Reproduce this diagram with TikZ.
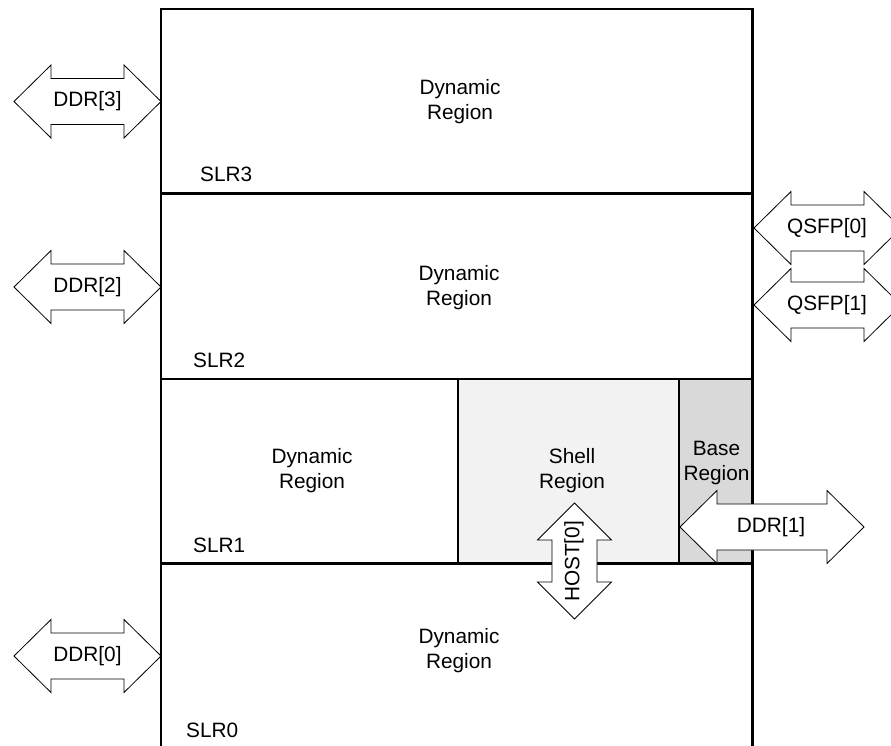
\documentclass[tikz,border=0pt]{standalone}
\usepackage{fontspec}
\setmainfont{Liberation Sans}
\newcommand\dblharrow[3]{\draw[arr] ({#1-#3},#2) -- ({#1-#3+37},{#2-36.5}) -- ({#1-#3+37},{#2-23}) -- ({#1+#3-37},{#2-23}) -- ({#1+#3-37},{#2-36.5}) -- ({#1+#3},#2) -- ({#1+#3-37},{#2+36.5}) -- ({#1+#3-37},{#2+23}) -- ({#1-#3+37},{#2+23}) -- ({#1-#3+37},{#2+36.5}) -- cycle;}
\newcommand\dblvarrow[3]{\draw[arr] (#1,{#2-#3}) -- ({#1+37},{#2-#3+37}) -- ({#1+22.5},{#2-#3+37}) -- ({#1+22.5},{#2+#3-37}) -- ({#1+37},{#2+#3-37}) -- (#1,{#2+#3}) -- ({#1-37},{#2+#3-37}) -- ({#1-22.5},{#2+#3-37}) -- ({#1-22.5},{#2-#3+37}) -- ({#1-37},{#2-#3+37}) -- cycle;}
\begin{document}
\begin{tikzpicture}[x=1pt,y=-1pt,
  box/.style={line width=2.6pt},
  arr/.style={draw=black, fill=white, line width=0.8pt, line join=miter},
  lbl/.style={font=\fontsize{20.8}{25}\selectfont, align=center, inner sep=0pt},
]
\useasboundingbox (0,0) rectangle (891,746);
\clip (0,0) rectangle (891,746);
% fills
\fill[black!5] (458,379) rectangle (679,563.5);
\fill[black!15] (679,379) rectangle (752.5,563.5);
% frame
\draw[box] (161,760) -- (161,9) -- (752.5,9) -- (752.5,760);
\draw[box] (161,193.5) -- (752.5,193.5);
\draw[box] (161,379) -- (752.5,379);
\draw[box] (161,563.5) -- (752.5,563.5);
\draw[box] (458,379) -- (458,563.5);
\draw[box] (679,379) -- (679,563.5);
% region labels
\node[lbl] (dyn3) at (460,102) {Dynamic\\Region};
\node[lbl] (dyn2) at (459,288) {Dynamic\\Region};
\node[lbl] (dyn1) at (312,471) {Dynamic\\Region};
\node[lbl] (dyn0) at (459,651) {Dynamic\\Region};
\node[lbl] (shell) at (572,471) {Shell\\Region};
\node[lbl] (base) at (716.5,463) {Base\\Region};
\node[lbl, anchor=west] (slr3) at (200,174) {SLR3};
\node[lbl, anchor=west] (slr2) at (193,360) {SLR2};
\node[lbl, anchor=west] (slr1) at (193,545) {SLR1};
\node[lbl, anchor=west] (slr0) at (186,730) {SLR0};
% arrows
\dblharrow{87.5}{101.5}{73.5}
\node[lbl] (ddr3) at (87.5,101.5) {DDR[3]};
\dblharrow{87.5}{287}{73.5}
\node[lbl] (ddr2) at (87.5,287) {DDR[2]};
\dblharrow{87.5}{656}{73.5}
\node[lbl] (ddr0) at (87.5,656) {DDR[0]};
\dblharrow{827.5}{228}{73.5}
\node[lbl] (qsfp0) at (827,228) {QSFP[0]};
\dblharrow{827.5}{305}{73.5}
\node[lbl] (qsfp1) at (827,305) {QSFP[1]};
\dblharrow{772}{527}{92}
\node[lbl] (ddr1) at (771,527) {DDR[1]};
\dblvarrow{574.5}{561}{58}
\node[lbl, rotate=90] (host0) at (574,561.5) {HOST[0]};
\end{tikzpicture}
\end{document}
